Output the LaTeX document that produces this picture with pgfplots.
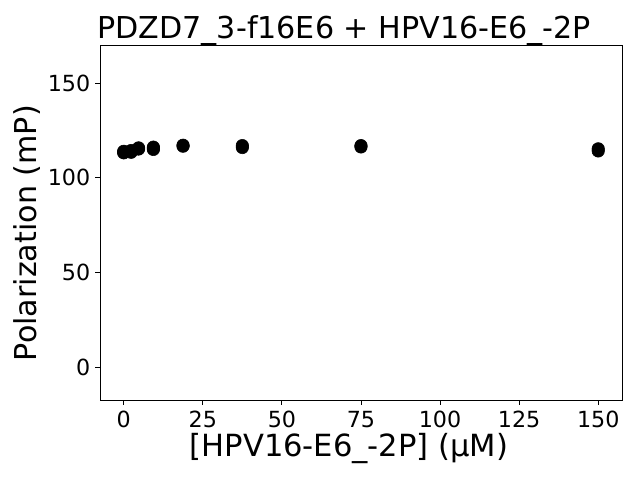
\documentclass[border=0pt]{standalone}
\usepackage{fontspec}
\setmainfont{DejaVu Sans}
\usepackage{pgfplots}
\pgfplotsset{compat=1.18}
\begin{document}
\begin{tikzpicture}
\useasboundingbox (0,0) rectangle (460.8pt,345.6pt);
\begin{axis}[
  at={(72pt,57.6pt)}, anchor=south west,
  scale only axis, width=375.8pt, height=255.6pt,
  xmin=-7.5, xmax=157.5, ymin=-17, ymax=170,
  xtick={0,25,50,75,100,125,150},
  ytick={0,50,100,150},
  tick align=outside, xtick pos=left, ytick pos=left,
  major tick length=3.5pt,
  tick style={black, line width=0.6pt},
  axis line style={line width=0.6pt},
  /pgf/number format/assume math mode=true,
  ticklabel style={font=\fontsize{16}{19}\selectfont},
  xticklabel style={yshift=-1pt},
  xlabel={[HPV16-E6\_-2P] (μM)},
  ylabel={Polarization (mP)},
  xlabel style={font=\fontsize{22}{26}\selectfont, at={(ticklabel cs:0.477)}, yshift=3pt},
  ylabel style={font=\fontsize{21.7}{26}\selectfont, at={(ticklabel cs:0.47,-1.5pt)}},
  clip=false,
]
\addplot[only marks, mark=*, mark size=4.5pt, black] coordinates {
(0,113.2) (0,114.0) (0,113.6)
(2.34,113.5) (2.34,114.4) (2.34,114.0)
(4.69,115.2) (4.69,115.8)
(9.375,115.0) (9.375,116.2) (9.375,115.6)
(18.75,116.7) (18.75,117.2)
(37.5,116.0) (37.5,117.0)
(75,116.3) (75,117.0)
(150,114.2) (150,115.3)
};
\node[anchor=base west, inner sep=0pt, font=\fontsize{21.7}{26}\selectfont] at ([xshift=-2pt, yshift=5pt]rel axis cs:0,1) {PDZD7\_3-f16E6 + HPV16-E6\_-2P};
\end{axis}
\end{tikzpicture}
\end{document}
